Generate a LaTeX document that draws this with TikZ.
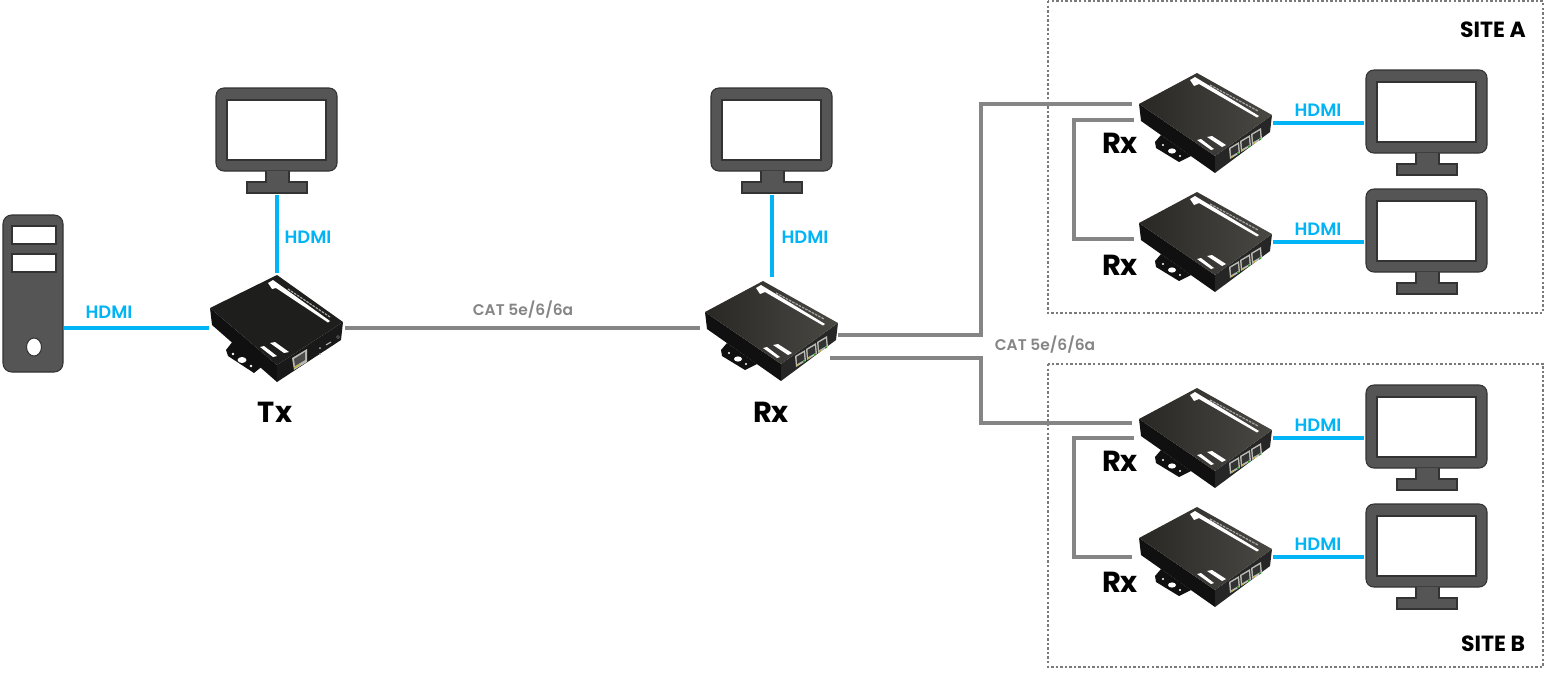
\documentclass[tikz,border=0pt]{standalone}
\usepackage{fontspec}
\setmainfont{Poppins}[BoldFont=Poppins SemiBold]
\newfontfamily\heavyfont{Poppins}[UprightFont=* Bold]
\definecolor{hdmiblue}{HTML}{00B4F5}
\definecolor{catgrey}{HTML}{858585}
\definecolor{sitegrey}{HTML}{7A7A7A}
\definecolor{screenbody}{HTML}{555555}
\definecolor{screenedge}{HTML}{333333}
\definecolor{casetop}{HTML}{4A4843}
\definecolor{casetopdark}{HTML}{1E1E1D}
\definecolor{caseside}{HTML}{101010}
\definecolor{portrim}{HTML}{B9BAB2}
\tikzset{
  hdmiline/.style={hdmiblue, line width=1.8pt},
  catline/.style={catgrey, line width=1.8pt},
  sitebox/.style={sitegrey, line width=1.5pt, dash pattern=on 1.4pt off 1.2pt},
  hdmilabel/.style={hdmiblue, font=\bfseries\fontsize{10.2}{12}\selectfont},
  catlabel/.style={catgrey, font=\bfseries\fontsize{8.8}{10}\selectfont},
  unitlabel/.style={black, font=\heavyfont\fontsize{16.5}{18}\selectfont},
  sitelabel/.style={black, font=\heavyfont\fontsize{12.5}{14}\selectfont},
  body/.style={fill=screenbody, draw=screenedge, line width=0.6pt},
  rjport/.pic={
    \fill[portrim] (0,0) -- (10,-6) -- (11,5) -- (1,11) -- cycle;
    \fill[black!80] (1.5,0.8) -- (8.7,-3.4) -- (9.5,3.8) -- (2.2,8) -- cycle;
    \fill[yellow!70!black] (2,9) -- (4,7.8) -- (4.2,9) -- (2.2,10.2) -- cycle;
    \fill[green!60!black] (8,5.6) -- (10,4.4) -- (10.2,5.4) -- (8.2,6.6) -- cycle;
  },
  monitor/.pic={
    \draw[body, rounded corners=4.5pt] (0,0) rectangle (121,83);
    \fill[white, draw=screenedge, line width=0.6pt] (11,12) rectangle (110,72);
    \draw[body] (50,83) -- (50,94) -- (31,94) -- (31,105) -- (91,105) -- (91,94) -- (73,94) -- (73,83);
    \coordinate (-w) at (-2,54);
    \coordinate (-s) at (61,107);
  },
  tower/.pic={
    \draw[body, rounded corners=5pt] (0,0) rectangle (60,157);
    \fill[white, draw=screenedge, line width=0.6pt] (9,11) rectangle (53,29);
    \fill[white, draw=screenedge, line width=0.6pt] (9,39) rectangle (53,57);
    \fill[white, draw=screenedge, line width=0.6pt] (31,132) circle [x radius=7.5, y radius=9];
    \coordinate (-e) at (61,113);
  },
  rxcase/.pic={
    \fill[caseside] (16,38) -- (22,31) -- (52,52) -- (40,58) -- (17,44) -- cycle;
    \fill[white] (33,47) circle [x radius=4, y radius=2.6];
    \fill[white] (24,41) circle (1.2);
    \fill[white] (41,52) circle (1.2);
    \fill[caseside] (0,0) -- (76,52) -- (76,69) -- (2,17) -- cycle;
    \fill[black!85] (76,52) -- (133,11) -- (131,28) -- (76,69) -- cycle;
    \shade[left color=casetop!55!black, right color=casetop] (0,0) -- (58,-31) -- (133,11) -- (76,52) -- cycle;
    \fill[white] (51,-24) -- (56,-27) -- (120,12) -- (118,13.5) -- (60,-20) -- (55,-18) -- cycle;
    \draw[black!35, line width=0.7pt, dash pattern=on 1.5pt off 0.6pt] (71,-19) -- (119,7);
    \fill[white] (58,36) -- (62,35) -- (75,45) -- (72,46) -- cycle;
    \fill[white] (68,33) -- (73,32) -- (87,41) -- (83,43) -- cycle;
    \pic at (90,44) {rjport};
    \pic at (101,37) {rjport};
    \pic at (112,30) {rjport};
    \coordinate (-in) at (-7,0);
    \coordinate (-w) at (-5,16);
    \coordinate (-n) at (67,-35);
    \coordinate (-e) at (134,19);
    \coordinate (-up) at (133,23);
    \coordinate (-dn) at (125,46);
  },
  txcase/.pic={
    \fill[caseside] (16,42) -- (23,33) -- (55,56) -- (44,65) -- (18,48) -- cycle;
    \fill[white] (32,52) circle [x radius=4.5, y radius=3];
    \fill[white] (23,46) circle (1.3);
    \fill[white] (41,58) circle (1.3);
    \fill[caseside] (0,0) -- (67,57) -- (67,74) -- (2,17) -- cycle;
    \fill[black!90] (67,57) -- (133,14) -- (131,32) -- (67,74) -- cycle;
    \fill[casetopdark] (0,0) -- (67,-33) -- (133,14) -- (67,57) -- cycle;
    \fill[white] (58,-25) -- (63,-28) -- (120,13) -- (118,14.5) -- (66,-20) -- (62,-19) -- cycle;
    \draw[black!35, line width=0.7pt, dash pattern=on 1.5pt off 0.6pt] (78,-19) -- (120,9);
    \fill[white] (50,39) -- (54,38) -- (67,48) -- (63,49) -- cycle;
    \fill[white] (60,35) -- (65,34) -- (79,44) -- (74,45) -- cycle;
    \fill[portrim] (82,50) -- (97,41) -- (97,54) -- (84,62) -- cycle;
    \fill[black!70] (84,51) -- (95,44) -- (95,52) -- (85,58) -- cycle;
    \fill[yellow!70!black] (84,59) -- (90,55.5) -- (90,57) -- (84,60.5) -- cycle;
    \fill[white!70!black] (110,40) circle (1);
    \fill[white!70!black] (110,46) circle (1);
    \draw[white!70!black, line width=0.6pt] (116,37) -- (121,34);
    \draw[white!40!black, line width=0.4pt] (128,29) circle (1.5);
    \coordinate (-w) at (-1,20);
    \coordinate (-n) at (67,-35);
    \coordinate (-e) at (135,20);
  }
}

\begin{document}
\begin{tikzpicture}[x=0.02cm, y=-0.02cm]
\useasboundingbox (0,0) rectangle (1544,673);
\draw[sitebox] (1048,1) rectangle (1543,313);
\draw[sitebox] (1048,364) rectangle (1543,667);

\pic (pc) at (3,215) {tower};
\pic (montx) at (216,88) {monitor};
\pic (monhub) at (711,88) {monitor};
\pic (mona1) at (1366,70) {monitor};
\pic (mona2) at (1366,189) {monitor};
\pic (monb1) at (1366,385) {monitor};
\pic (monb2) at (1366,504) {monitor};
\pic (tx) at (210,308) {txcase};
\pic (rxhub) at (705,312) {rxcase};
\pic (rxa1) at (1139,104) {rxcase};
\pic (rxa2) at (1139,223) {rxcase};
\pic (rxb1) at (1139,419) {rxcase};
\pic (rxb2) at (1139,538) {rxcase};

\coordinate (busa) at (981,104);
\coordinate (busb) at (981,423);
\coordinate (feedb) at (1132,423);
\coordinate (chaina) at (1074,120);
\coordinate (chainb) at (1074,438);
\coordinate (chainb1) at (1134,438);
\coordinate (chainb2) at (1132,557);

\draw[hdmiline] (pc-e) -- (tx-w);
\draw[hdmiline] (montx-s) -- (tx-n);
\draw[hdmiline] (monhub-s) -- (rxhub-n);
\draw[hdmiline] (rxa1-e) -- (rxa1-e -| mona1-w);
\draw[hdmiline] (rxa2-e) -- (rxa2-e -| mona2-w);
\draw[hdmiline] (rxb1-e) -- (rxb1-e -| monb1-w);
\draw[hdmiline] (rxb2-e) -- (rxb2-e -| monb2-w);
\draw[catline] (tx-e) -- (rxhub-w);
\draw[catline] (rxhub-up) -| (busa) -- (rxa1-in);
\draw[catline] (rxhub-dn) -| (busb) -- (feedb);
\draw[catline] (rxa1-w) -- (chaina) |- (rxa2-w);
\draw[catline] (chainb1) -- (chainb) |- (chainb2);

\node[hdmilabel] (hdmipc) at (109,312) {HDMI};
\node[hdmilabel] (hdmitx) at (308,237) {HDMI};
\node[hdmilabel] (hdmihub) at (805,237) {HDMI};
\node[hdmilabel] (hdmia1) at (1318,110) {HDMI};
\node[hdmilabel] (hdmia2) at (1318,229) {HDMI};
\node[hdmilabel] (hdmib1) at (1318,425) {HDMI};
\node[hdmilabel] (hdmib2) at (1318,544) {HDMI};
\node[catlabel] (catmain) at (523,310) {CAT 5e/6/6a};
\node[catlabel] (catsites) at (1045,345) {CAT 5e/6/6a};
\node[unitlabel] (labeltx) at (275,412) {Tx};
\node[unitlabel] (labelhub) at (771,412) {Rx};
\node[unitlabel] (labela1) at (1120,143) {Rx};
\node[unitlabel] (labela2) at (1120,265) {Rx};
\node[unitlabel] (labelb1) at (1120,461) {Rx};
\node[unitlabel] (labelb2) at (1120,582) {Rx};
\node[sitelabel] (sitea) at (1493,30) {SITE A};
\node[sitelabel] (siteb) at (1493,644) {SITE B};
\end{tikzpicture}
\end{document}
